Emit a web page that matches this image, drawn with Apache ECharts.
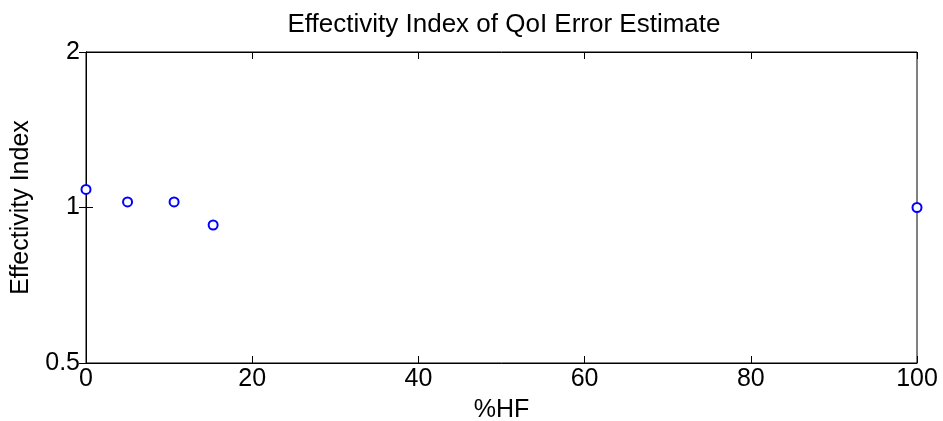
<!DOCTYPE html>
<html>
<head>
<meta charset="utf-8">
<script src="https://cdn.jsdelivr.net/npm/echarts@6/dist/echarts.min.js"></script>
<style>html,body{margin:0;padding:0;background:#fff}#c{width:943px;height:421px}</style>
</head>
<body>
<div id="c"></div>
<script>
const titleText = 'Effectivity Index of QoI Error Estimate';
const xName = '%HF';
const yName = 'Effectivity Index';
const hfPercent = [0, 5, 10.6, 15.3, 100];
const effIndex = [1.084, 1.025, 1.025, 0.925, 1.0];
const xTicks = [0, 20, 40, 60, 80, 100];
const yTicks = [0.5, 1, 2];

const font = 'Liberation Sans, Arial, Helvetica, sans-serif';
const chart = echarts.init(document.getElementById('c'), null, {renderer: 'canvas'});
const tickStyle = {show: true, inside: true, length: 7, lineStyle: {color: '#000', width: 1}};
chart.setOption({
  animation: false,
  backgroundColor: '#fff',
  title: {text: titleText, left: 499, top: 7, textAlign: 'center',
    textStyle: {fontFamily: font, fontSize: 26, fontWeight: 'normal', color: '#000'}},
  grid: {left: 86, right: 26, top: 52, bottom: 58, show: true, borderColor: '#000', borderWidth: 1,
    backgroundColor: '#fff', containLabel: false, outerBoundsMode: 'none'},
  xAxis: [{
    type: 'value', min: xTicks[0], max: xTicks[xTicks.length - 1], interval: 20, position: 'bottom',
    name: xName, nameLocation: 'middle', nameGap: 35,
    nameTextStyle: {fontFamily: font, fontSize: 25, color: '#000'},
    axisLine: {show: true, lineStyle: {color: '#000', width: 1}},
    axisTick: tickStyle,
    axisLabel: {fontFamily: font, fontSize: 25, color: '#000', margin: 4},
    splitLine: {show: false}
  }, {
    type: 'value', min: xTicks[0], max: xTicks[xTicks.length - 1], interval: 20, position: 'top',
    axisLine: {show: true, lineStyle: {color: '#000', width: 1}},
    axisTick: tickStyle, axisLabel: {show: false}, splitLine: {show: false}
  }],
  yAxis: [{
    type: 'log', logBase: 2, min: yTicks[0], max: yTicks[yTicks.length - 1], position: 'left',
    name: yName, nameLocation: 'middle', nameGap: 52, nameRotate: 90,
    nameTextStyle: {fontFamily: font, fontSize: 25, color: '#000'},
    axisLine: {show: true, lineStyle: {color: '#000', width: 1}},
    axisTick: tickStyle,
    axisLabel: {fontFamily: font, fontSize: 25, color: '#000', margin: 6,
      formatter: v => String(Math.round(v * 100) / 100)},
    splitLine: {show: false}, minorTick: {show: false}
  }, {
    type: 'log', logBase: 2, min: yTicks[0], max: yTicks[yTicks.length - 1], position: 'right',
    axisLine: {show: true, lineStyle: {color: '#000', width: 1}},
    axisTick: tickStyle, axisLabel: {show: false}, splitLine: {show: false}
  }],
  series: [{
    type: 'scatter',
    data: hfPercent.map((x, i) => [x, effIndex[i]]),
    symbol: 'emptyCircle', symbolSize: 9,
    itemStyle: {color: '#0000ff', borderWidth: 2.2, opacity: 1},
    z: 10,
    clip: false
  }]
});
</script>
</body>
</html>
